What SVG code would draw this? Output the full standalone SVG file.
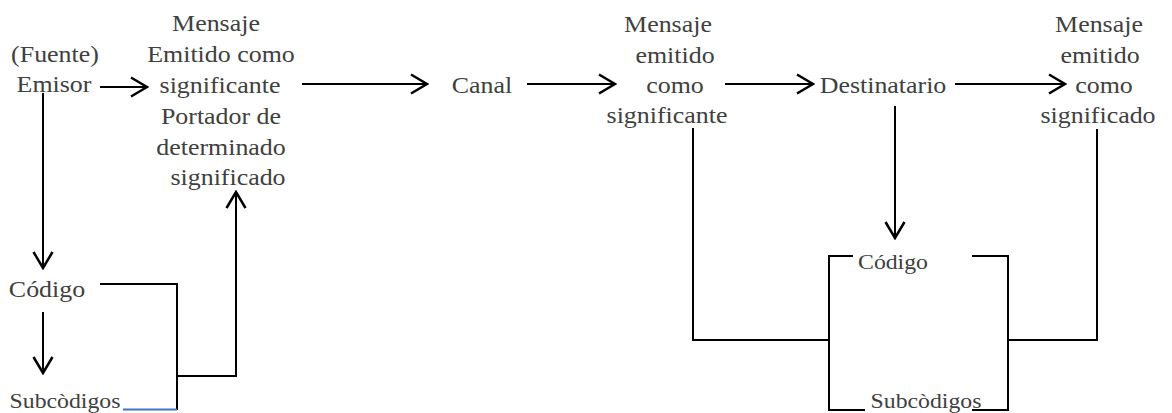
<svg xmlns="http://www.w3.org/2000/svg" width="1172" height="413" viewBox="0 0 1172 413" font-family="Liberation Serif">
<style>
text{fill:#404040;text-anchor:middle}
.t{font-size:24px}
.s{font-size:22px}
.ln{fill:none;stroke:#000;stroke-width:2}
.ar{marker-end:url(#ah)}
</style>
<defs>
<marker id="ah" viewBox="-18 -11 20 22" markerWidth="20" markerHeight="22" refX="0" refY="0" orient="auto" markerUnits="userSpaceOnUse">
<path d="M-16,-9.5 L0,0 L-16,9.5" fill="none" stroke="#000" stroke-width="2.5"/>
</marker>
</defs>
<rect width="1172" height="413" fill="#fff"/>
<g id="emisor">
<text class="t" transform="translate(55,62) scale(1.08,1)">(Fuente)</text>
<text class="t" transform="translate(54,92) scale(1.08,1)">Emisor</text>
</g>
<g id="mensaje1">
<text class="t" transform="translate(216,31) scale(1.08,1)">Mensaje</text>
<text class="t" transform="translate(221,62) scale(1.08,1)">Emitido como</text>
<text class="t" transform="translate(220,93) scale(1.08,1)">significante</text>
<text class="t" transform="translate(221,124) scale(1.08,1)">Portador  de</text>
<text class="t" transform="translate(221,155) scale(1.08,1)">determinado</text>
<text class="t" transform="translate(228,185) scale(1.08,1)">significado</text>
</g>
<g id="codigo1">
<text class="t" transform="translate(47,297) scale(1.08,1)">Código</text>
</g>
<g id="subcodigos1">
<text class="s" transform="translate(65,408) scale(1.08,1)">Subcòdigos</text>
</g>
<g id="canal">
<text class="t" transform="translate(482,93) scale(1.08,1)">Canal</text>
</g>
<g id="mensaje2">
<text class="t" transform="translate(668,32) scale(1.08,1)">Mensaje</text>
<text class="t" transform="translate(675,63) scale(1.08,1)">emitido</text>
<text class="t" transform="translate(675,93) scale(1.08,1)">como</text>
<text class="t" transform="translate(667,123) scale(1.08,1)">significante</text>
</g>
<g id="destinatario">
<text class="t" transform="translate(883,93) scale(1.08,1)">Destinatario</text>
</g>
<g id="mensaje3">
<text class="t" transform="translate(1099,32) scale(1.08,1)">Mensaje</text>
<text class="t" transform="translate(1100,63) scale(1.08,1)">emitido</text>
<text class="t" transform="translate(1104,93) scale(1.08,1)">como</text>
<text class="t" transform="translate(1098,123) scale(1.08,1)">significado</text>
</g>
<g id="codigo2">
<text class="s" transform="translate(893,269) scale(1.08,1)">Código</text>
</g>
<g id="subcodigos2">
<text class="s" transform="translate(926,408) scale(1.08,1)">Subcòdigos</text>
</g>
<g id="connectors">
<line class="ln ar" x1="100" y1="87" x2="147" y2="87"/>
<line class="ln ar" x1="302" y1="84" x2="427" y2="84"/>
<line class="ln ar" x1="527" y1="84" x2="615" y2="84"/>
<line class="ln ar" x1="725" y1="84" x2="813" y2="84"/>
<line class="ln ar" x1="955" y1="84" x2="1065" y2="84"/>
<line class="ln ar" x1="43" y1="93" x2="43" y2="268"/>
<line class="ln ar" x1="43" y1="312" x2="43" y2="373"/>
<polyline class="ln" points="100,284 177,284 177,410"/>
<line x1="123" y1="409.5" x2="177" y2="409.5" stroke="#4472C4" stroke-width="2"/>
<polyline class="ln ar" points="177,376 236,376 236,192"/>
<line class="ln ar" x1="895" y1="106" x2="895" y2="238"/>
<polyline class="ln" points="693,128 693,340 829,340"/>
<polyline class="ln" points="853,256 829,256 829,410 865,410"/>
<polyline class="ln" points="972,256 1008,256 1008,410 972,410"/>
<polyline class="ln" points="1008,340 1097,340 1097,129"/>
</g>
</svg>
